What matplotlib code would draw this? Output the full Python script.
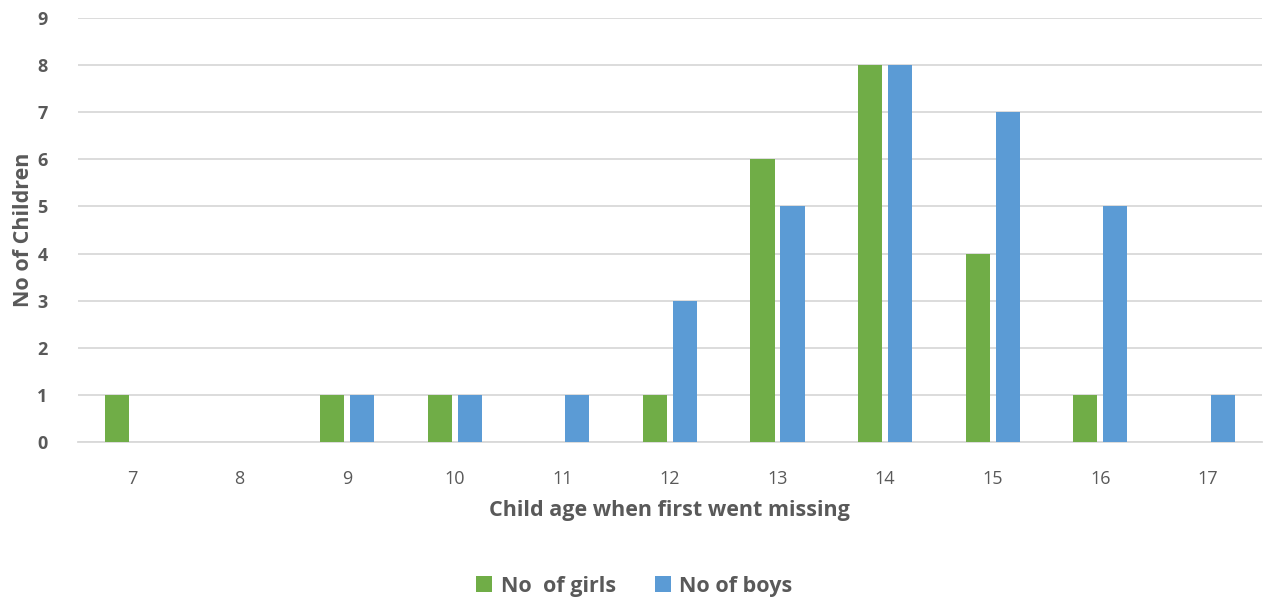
import numpy as np
from matplotlib import pyplot as plt

ages = [7, 8, 9, 10, 11, 12, 13, 14, 15, 16, 17]
girls = [1, 0, 1, 1, 0, 1, 6, 8, 4, 1, 0]
boys = [0, 0, 1, 1, 1, 3, 5, 8, 7, 5, 1]

GREEN = "#70AD47"
BLUE = "#5B9BD5"
GREY = "#595959"

plt.rcParams["font.family"] = ["Open Sans", "DejaVu Sans"]

fig = plt.figure(figsize=(12.63, 6.01), dpi=100)
ax = fig.add_axes([0.0618, 0.2646, 0.9372, 0.7054])

x = np.arange(len(ages))
w = 0.225
ax.bar(x - 0.14, girls, width=w, color=GREEN, label="No  of girls", zorder=3)
ax.bar(x + 0.14, boys, width=w, color=BLUE, label="No of boys", zorder=3)

ax.set_xlim(-0.5, len(ages) - 0.5)
ax.set_ylim(0, 9)
ax.set_yticks(range(10))
ax.set_xticks(x)
ax.set_xticklabels([str(a) for a in ages])

ax.grid(axis="y", color="#D9D9D9", linewidth=1.3, zorder=0)
for s in ["top", "right", "left"]:
    ax.spines[s].set_visible(False)
ax.spines["bottom"].set_color("#D9D9D9")
ax.spines["bottom"].set_linewidth(1.3)
ax.tick_params(length=0)
ax.tick_params(axis="x", labelsize=13, labelcolor=GREY, pad=20)
ax.tick_params(axis="y", labelsize=13, labelcolor=GREY, pad=22)
for lbl in ax.get_yticklabels():
    lbl.set_fontweight("bold")

ax.set_xlabel("Child age when first went missing", fontsize=15.5, fontweight="bold",
              color=GREY, labelpad=9)
ax.set_ylabel("No of Children", fontsize=15.5, fontweight="bold", color=GREY, labelpad=2)

ax.legend(loc="upper center", bbox_to_anchor=(0.47, -0.27), ncol=2, frameon=False,
          handlelength=0.75, handleheight=0.75, columnspacing=1.8,
          handletextpad=0.4, prop={"weight": "bold", "size": 15.5})
for t in ax.get_legend().get_texts():
    t.set_color(GREY)

fig.savefig("out.png", dpi=100)
